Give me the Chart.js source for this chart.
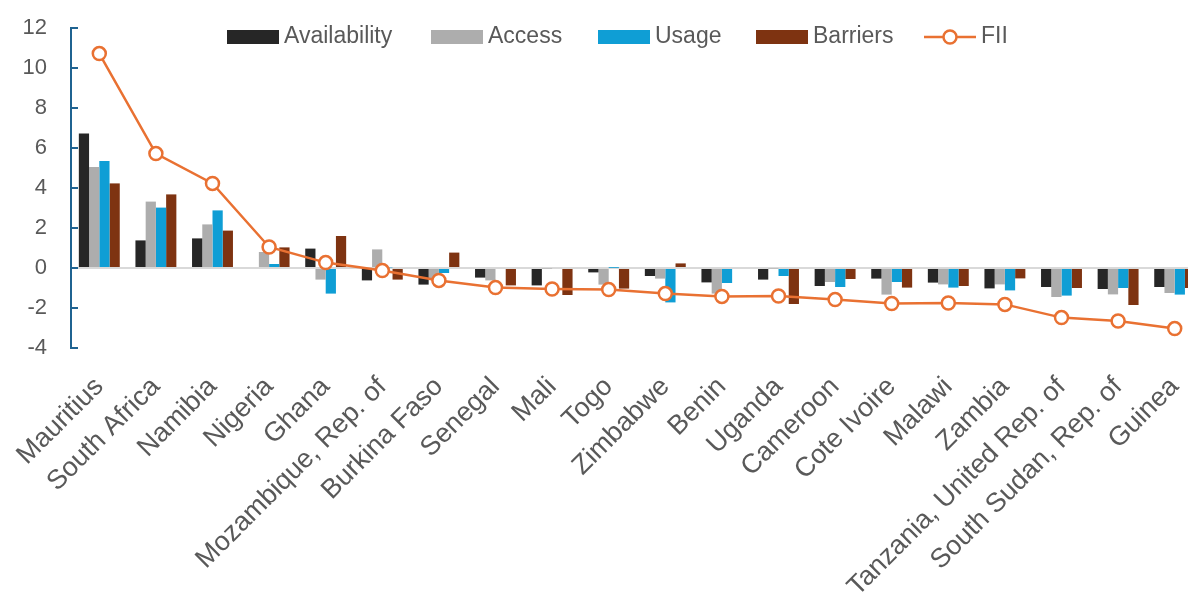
<!DOCTYPE html>
<html>
<head>
<meta charset="utf-8">
<script src="https://cdn.jsdelivr.net/npm/chart.js@4.4.1/dist/chart.umd.min.js"></script>
<style>
  html, body { margin: 0; padding: 0; background: #fff; overflow: hidden; }
  #wrap { width: 1212px; height: 599px; }
</style>
</head>
<body>
<div id="wrap"><canvas id="c" width="1212" height="599"></canvas></div>
<script>
const categories = ['Mauritius','South Africa','Namibia','Nigeria','Ghana','Mozambique, Rep. of','Burkina Faso','Senegal','Mali','Togo','Zimbabwe','Benin','Uganda','Cameroon','Cote Ivoire','Malawi','Zambia','Tanzania, United Rep. of','South Sudan, Rep. of','Guinea'];
const availability = [6.72,1.38,1.48,0.05,0.97,-0.62,-0.83,-0.48,-0.87,-0.22,-0.4,-0.72,-0.58,-0.9,-0.53,-0.73,-1.02,-0.95,-1.05,-0.95];
const access = [5.05,3.32,2.18,0.8,-0.58,0.93,-0.6,-0.62,-0.02,-0.83,-0.53,-1.28,-0.02,-0.7,-1.33,-0.82,-0.82,-1.45,-1.32,-1.25];
const usage = [5.35,3.02,2.88,0.2,-1.28,0.03,-0.25,0.05,0.05,0.01,-1.72,-0.75,-0.4,-0.95,-0.7,-0.98,-1.12,-1.38,-1.0,-1.33];
const barriers = [4.23,3.68,1.87,1.03,1.6,-0.58,0.77,-0.87,-1.35,-1.03,0.23,0.05,-1.8,-0.55,-0.98,-0.9,-0.52,-1.0,-1.85,-1.0];
const fii = [10.72,5.72,4.23,1.05,0.27,-0.13,-0.62,-0.98,-1.05,-1.08,-1.28,-1.42,-1.4,-1.58,-1.78,-1.75,-1.82,-2.48,-2.65,-3.03];
const yTicks = [-4,-2,0,2,4,6,8,10,12];

const FONT = "'Liberation Sans', Arial, sans-serif";
const TEXT = '#595959';
const AXIS = '#1F6391';
const COLORS = { availability: '#262626', access: '#ADADAD', usage: '#0F9ED5', barriers: '#7E3311', fii: '#E97132' };
const LEGEND_X = [227, 431, 598, 756, 924];

const yTickMarks = {
  id: 'yTickMarks',
  afterDraw(chart) {
    const y = chart.scales.y, ctx = chart.ctx;
    ctx.save();
    ctx.strokeStyle = AXIS; ctx.lineWidth = 2;
    yTicks.forEach(v => {
      const p = Math.round(y.getPixelForValue(v));
      ctx.beginPath(); ctx.moveTo(y.right - 1, p); ctx.lineTo(y.right + 7, p); ctx.stroke();
    });
    ctx.restore();
  }
};

const customLegend = {
  id: 'customLegend',
  afterDraw(chart) {
    const ctx = chart.ctx;
    ctx.save();
    ctx.font = '23px ' + FONT;
    ctx.textBaseline = 'middle';
    const cy = 37;
    chart.data.datasets.forEach((ds, i) => {
      const x = LEGEND_X[i];
      if (ds.type === 'line') {
        ctx.strokeStyle = ds.borderColor; ctx.lineWidth = 2.5;
        ctx.beginPath(); ctx.moveTo(x, cy); ctx.lineTo(x + 52, cy); ctx.stroke();
        ctx.beginPath(); ctx.arc(x + 26, cy, 6.5, 0, Math.PI * 2);
        ctx.fillStyle = '#fff'; ctx.fill(); ctx.stroke();
      } else {
        ctx.fillStyle = ds.backgroundColor;
        ctx.fillRect(x, cy - 7, 52, 14);
      }
      ctx.fillStyle = TEXT;
      ctx.fillText(ds.label, x + 57, cy);
    });
    ctx.restore();
  }
};

new Chart(document.getElementById('c'), {
  data: {
    labels: categories,
    datasets: [
      { type: 'bar', label: 'Availability', data: availability, backgroundColor: COLORS.availability, order: 1 },
      { type: 'bar', label: 'Access', data: access, backgroundColor: COLORS.access, order: 1 },
      { type: 'bar', label: 'Usage', data: usage, backgroundColor: COLORS.usage, order: 1 },
      { type: 'bar', label: 'Barriers', data: barriers, backgroundColor: COLORS.barriers, order: 1 },
      { type: 'line', label: 'FII', data: fii, borderColor: COLORS.fii, borderWidth: 2.5, tension: 0,
        pointRadius: 6.5, pointBackgroundColor: '#fff', pointBorderColor: COLORS.fii, pointBorderWidth: 2.5, order: 0 }
    ]
  },
  options: {
    responsive: false,
    animation: false,
    devicePixelRatio: 1,
    layout: { padding: { top: 28, right: 2, left: 0, bottom: 0 } },
    datasets: { bar: { categoryPercentage: 0.723, barPercentage: 1 } },
    plugins: { legend: { display: false }, tooltip: { enabled: false } },
    scales: {
      x: {
        grid: { display: false, drawTicks: false },
        border: { display: false },
        ticks: { color: TEXT, font: { family: FONT, size: 27 }, maxRotation: 45, minRotation: 45, padding: 23, autoSkip: false },
        afterFit(scale) { scale.height = 251; scale.paddingLeft = 0; scale.paddingRight = 0; }
      },
      y: {
        min: -4, max: 12,
        afterBuildTicks(scale) { scale.ticks = yTicks.map(v => ({ value: v })); },
        grid: {
          drawTicks: false, lineWidth: 2,
          color: ctx => (ctx.tick && ctx.tick.value === 0) ? '#D9D9D9' : 'rgba(0,0,0,0)'
        },
        border: { display: true, color: AXIS, width: 2 },
        ticks: { color: TEXT, font: { family: FONT, size: 22 }, padding: 24 },
        afterFit(scale) { scale.width = 71; scale.paddingTop = 0; scale.paddingBottom = 0; }
      }
    }
  },
  plugins: [yTickMarks, customLegend]
});
</script>
</body>
</html>
